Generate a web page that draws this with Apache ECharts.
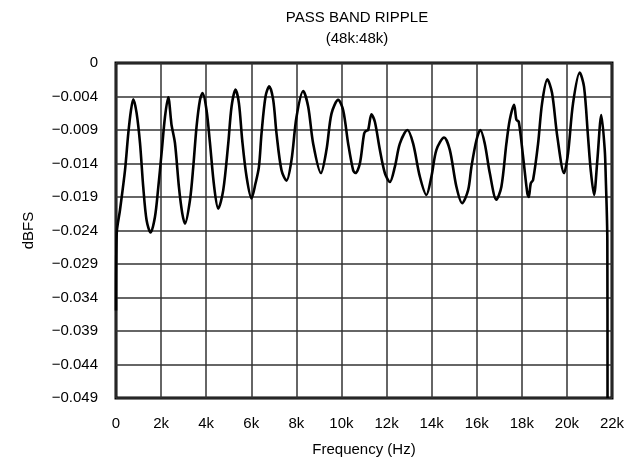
<!DOCTYPE html>
<html>
<head>
<meta charset="utf-8">
<script src="https://cdn.jsdelivr.net/npm/echarts@6/dist/echarts.min.js"></script>
<style>
  html, body { margin: 0; padding: 0; background: #fff; }
  #chart { width: 628px; height: 470px; }
</style>
</head>
<body>
<div id="chart"></div>
<script>
// frequency (Hz) and level (dBFS)
var freqs = [0, 30, 177, 399, 545, 665, 767, 913, 1064, 1210, 1357, 1534, 1729, 1875, 2021, 2172, 2318, 2438, 2465, 2615, 2793, 2939, 3059, 3280, 3427, 3573, 3724, 3839, 4016, 4167, 4358, 4535, 4757, 4978, 5125, 5302, 5453, 5599, 5790, 6011, 6189, 6339, 6455, 6632, 6796, 6973, 7119, 7341, 7563, 7784, 8006, 8303, 8525, 8746, 9088, 9336, 9558, 9855, 10076, 10298, 10520, 10622, 10817, 11007, 11109, 11185, 11331, 11482, 11703, 11925, 12147, 12368, 12590, 12927, 13180, 13476, 13769, 13991, 14212, 14554, 14806, 15099, 15352, 15618, 15764, 15986, 16163, 16358, 16579, 16872, 17094, 17315, 17466, 17657, 17759, 17865, 18056, 18246, 18308, 18397, 18499, 18721, 18898, 19133, 19341, 19576, 19873, 20050, 20272, 20569, 20760, 20937, 21057, 21203, 21350, 21527, 21678, 21722, 21793, 21802];
var levels = [-0.0362, -0.0250, -0.0215, -0.0157, -0.0103, -0.0069, -0.0053, -0.0073, -0.0117, -0.0182, -0.0230, -0.0248, -0.0225, -0.0182, -0.0132, -0.0079, -0.0050, -0.0083, -0.0091, -0.0117, -0.0182, -0.0220, -0.0235, -0.0201, -0.0152, -0.0093, -0.0054, -0.0044, -0.0069, -0.0117, -0.0182, -0.0213, -0.0186, -0.0118, -0.0064, -0.0039, -0.0059, -0.0113, -0.0166, -0.0198, -0.0176, -0.0152, -0.0103, -0.0049, -0.0034, -0.0054, -0.0103, -0.0157, -0.0172, -0.0142, -0.0079, -0.0041, -0.0064, -0.0118, -0.0161, -0.0127, -0.0074, -0.0054, -0.0069, -0.0118, -0.0157, -0.0161, -0.0147, -0.0103, -0.0099, -0.0098, -0.0075, -0.0086, -0.0127, -0.0161, -0.0174, -0.0152, -0.0118, -0.0098, -0.0118, -0.0166, -0.0193, -0.0166, -0.0127, -0.0109, -0.0127, -0.0181, -0.0205, -0.0186, -0.0152, -0.0113, -0.0098, -0.0118, -0.0161, -0.0200, -0.0181, -0.0118, -0.0083, -0.0061, -0.0083, -0.0086, -0.0137, -0.0191, -0.0196, -0.0176, -0.0171, -0.0118, -0.0059, -0.0024, -0.0044, -0.0108, -0.0161, -0.0132, -0.0059, -0.0014, -0.0035, -0.0108, -0.0157, -0.0193, -0.0142, -0.0076, -0.0127, -0.0166, -0.0259, -0.0490];

// tick labels, bottom to top
var yTickLabels = ['\u22120.049', '\u22120.044', '\u22120.039', '\u22120.034', '\u22120.029', '\u22120.024', '\u22120.019', '\u22120.014', '\u22120.009', '\u22120.004', '0'];
var xTickLabels = ['0', '2k', '4k', '6k', '8k', '10k', '12k', '14k', '16k', '18k', '20k', '22k'];

var seriesData = freqs.map(function (f, i) { return [f, levels[i]]; });

var chart = echarts.init(document.getElementById('chart'));
var font = 'Liberation Sans, Arial, sans-serif';

chart.setOption({
    animation: false,
    title: {
        text: 'PASS BAND RIPPLE',
        subtext: '(48k:48k)',
        left: 352,
        textAlign: 'center',
        top: 5,
        itemGap: 6,
        textStyle: { fontFamily: font, fontSize: 15, fontWeight: 'normal', color: '#000' },
        subtextStyle: { fontFamily: font, fontSize: 15, color: '#000' }
    },
    grid: {
        left: 116,
        top: 63,
        right: 16,
        bottom: 72,
        show: true,
        borderColor: '#000',
        borderWidth: 3,
        backgroundColor: '#fff'
    },
    xAxis: {
        type: 'value',
        min: 0,
        max: 22000,
        interval: 2000,
        name: 'Frequency (Hz)',
        nameLocation: 'middle',
        nameGap: 44,
        nameTextStyle: { fontFamily: font, fontSize: 15, color: '#000' },
        axisLine: { show: false },
        axisTick: { show: false },
        axisLabel: {
            margin: 18,
            fontFamily: font,
            fontSize: 15,
            color: '#000',
            formatter: function (v) { return xTickLabels[Math.round(v / 2000)]; }
        },
        splitLine: { show: true, lineStyle: { color: '#333', width: 1.5 } }
    },
    yAxis: {
        type: 'value',
        min: -0.049,
        max: 0,
        interval: 0.0049,
        name: 'dBFS',
        nameLocation: 'middle',
        nameGap: 80,
        nameTextStyle: { fontFamily: font, fontSize: 15, color: '#000' },
        axisLine: { show: false },
        axisTick: { show: false },
        axisLabel: {
            margin: 18,
            fontFamily: font,
            fontSize: 15,
            color: '#000',
            formatter: function (v) { return yTickLabels[Math.round((v + 0.049) / 0.0049)]; }
        },
        splitLine: { show: true, lineStyle: { color: '#333', width: 1.5 } }
    },
    series: [{
        type: 'line',
        data: seriesData,
        showSymbol: false,
        smooth: 0.3,
        lineStyle: { color: '#000', width: 2.6 },
        clip: true
    }]
});
</script>
</body>
</html>
